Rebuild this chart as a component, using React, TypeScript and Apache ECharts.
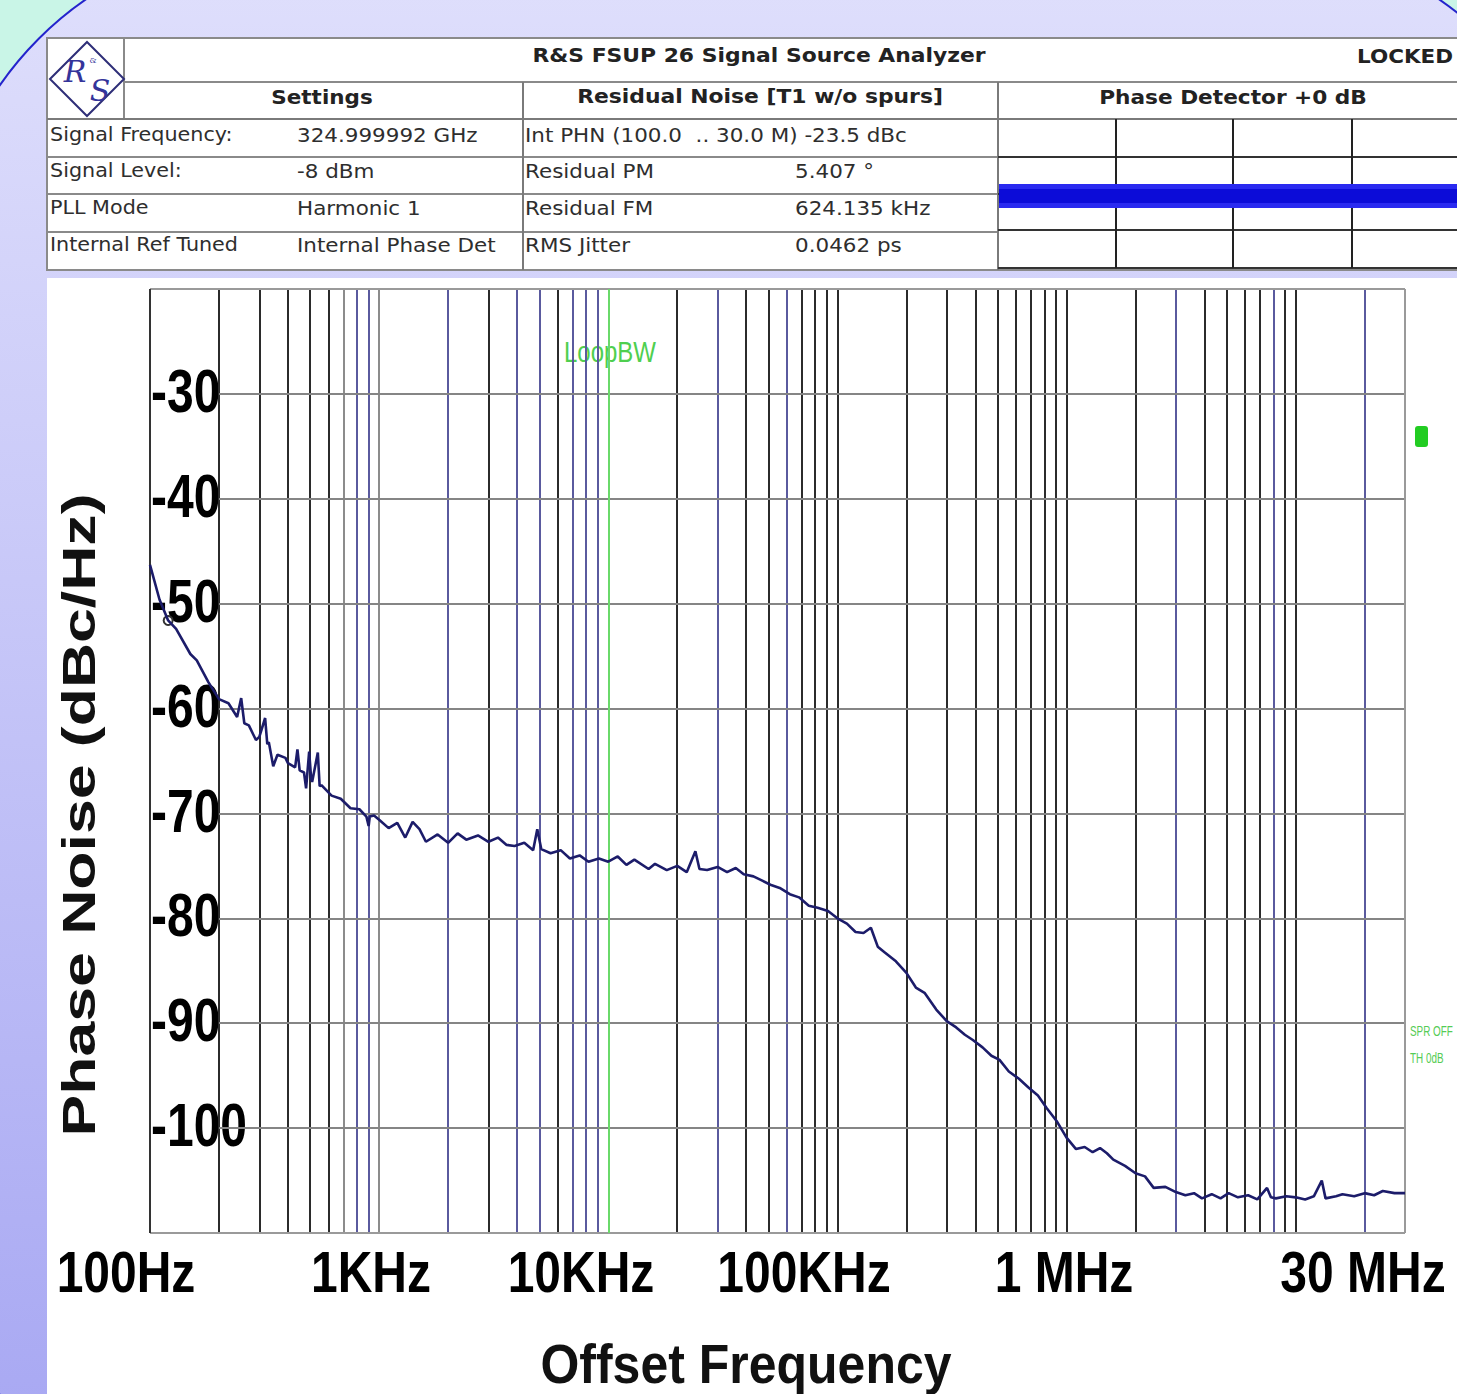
import React, { useEffect, useRef } from "react";
import * as echarts from "echarts";

// ---------------- data ----------------
const freqHz = [
  100, 110, 120, 130, 150, 160, 180, 200, 220, 240, 250, 258, 270, 290, 300, 318, 325, 330, 345, 360,
  390, 400, 430, 440, 450, 470, 480, 495, 505, 510, 540, 550, 560, 620, 680, 750, 820, 880, 900, 910, 950,
  1000, 1100, 1200, 1300, 1400, 1500, 1600, 1800, 2000, 2200, 2400, 2700, 3000, 3300, 3600, 3900, 4300,
  4700, 4900, 5100, 5600, 6200, 6800, 7500, 8200, 9100,
  10000, 11000, 12000, 13000, 15000, 16000, 18000, 20000, 22000, 24000, 25000, 27000, 30000, 33000, 36000,
  39000, 43000, 47000, 51000, 56000, 62000, 68000, 75000, 82000, 91000,
  100000, 110000, 120000, 130000, 140000, 150000, 160000, 180000, 200000, 220000, 240000, 270000, 300000,
  330000, 360000, 390000, 430000, 470000, 510000, 560000, 620000, 680000, 750000, 820000, 910000,
  1000000, 1100000, 1200000, 1300000, 1400000, 1500000, 1600000, 1800000, 2000000, 2200000, 2400000,
  2700000, 3000000, 3300000, 3600000, 3900000, 4300000, 4700000, 5100000, 5600000, 6200000, 6800000,
  7500000, 7800000, 8200000, 9100000,
  10000000, 11000000, 12000000, 13000000, 13500000, 15000000, 16000000, 18000000, 20000000, 22000000,
  24000000, 27000000, 30000000,
];
const phaseNoiseDbc = [
  -46.3, -49.6, -51.6, -52.4, -54.8, -55.4, -57.5, -59.1, -59.5, -60.8, -59.0, -61.4, -61.6, -63.0, -62.7,
  -60.9, -63.4, -63.2, -65.5, -64.4, -64.7, -65.2, -65.6, -63.9, -65.9, -66.1, -67.6, -64.1, -66.7, -67.0,
  -64.2, -67.4, -67.3, -68.3, -68.6, -69.5, -69.6, -70.3, -71.2, -70.3, -70.2,
  -70.6, -71.4, -70.9, -72.3, -70.8, -71.5, -72.7, -72.0, -72.8, -71.9, -72.5, -72.1, -72.7, -72.3, -73.0,
  -73.1, -72.8, -73.5, -71.5, -73.4, -73.8, -73.5, -74.3, -74.0, -74.6, -74.3,
  -74.6, -74.1, -74.9, -74.4, -75.3, -74.8, -75.4, -75.0, -75.6, -73.6, -75.3, -75.4, -75.1, -75.6, -75.2,
  -75.8, -76.0, -76.4, -76.8, -77.1, -77.7, -78.0, -78.8, -79.0, -79.3,
  -80.0, -80.5, -81.3, -81.4, -80.9, -82.7, -83.2, -84.1, -85.2, -86.6, -87.1, -88.7, -89.8, -90.4, -91.1,
  -91.6, -92.3, -93.1, -93.5, -94.6, -95.3, -96.1, -96.9, -98.1, -99.4,
  -100.9, -102.0, -101.8, -102.3, -101.9, -102.4, -103.0, -103.6, -104.3, -104.6, -105.7, -105.6, -106.1,
  -106.4, -106.2, -106.7, -106.3, -106.7, -106.2, -106.6, -106.4, -106.8, -105.7, -106.6, -106.7, -106.5,
  -106.6, -106.8, -106.5, -105.0, -106.7, -106.5, -106.3, -106.5, -106.2, -106.4, -106.0, -106.2, -106.2,
];

const markerHz = 120;
const markerDbc = -51.6;
const loopBandwidthHz = 10000;

const X_MIN = 100;
const X_MAX = 30000000;
const Y_MIN = -110;
const Y_MAX = -20;

const yTickValues = [-30, -40, -50, -60, -70, -80, -90, -100];
const xTickLabels = ["100Hz", "1KHz", "10KHz", "100KHz", "1 MHz", "30 MHz"];

const gridDarkHz = [
  200, 300, 400, 500, 600, 3000, 6000, 20000, 40000, 50000, 70000, 80000, 90000, 100000,
  200000, 300000, 400000, 500000, 600000, 700000, 800000, 900000, 1000000,
  2000000, 4000000, 5000000, 6000000, 7000000, 9000000, 10000000,
];
const gridPurpleHz = [800, 900, 2000, 4000, 5000, 7000, 8000, 9000, 30000, 60000, 3000000, 8000000, 20000000];
const gridGrayHz = [700, 1000];

const settingsNames = ["Signal Frequency:", "Signal Level:", "PLL Mode", "Internal Ref Tuned"];
const settingsValues = ["324.999992 GHz", "-8 dBm", "Harmonic 1", "Internal Phase Det"];
const residualNames = ["Int PHN (100.0  .. 30.0 M) -23.5 dBc", "Residual PM", "Residual FM", "RMS Jitter"];
const residualValues = ["", "5.407 °", "624.135 kHz", "0.0462 ps"];

// ---------------- layout constants ----------------
const W = 1457;
const H = 1394;
const BIG = '"Liberation Sans", Arial, sans-serif';
const TBL = '"DejaVu Sans", sans-serif';

function txt(x: number, y: number, text: string, font: string, fill: string, align = "left", extra: any = {}) {
  return {
    type: "text",
    x,
    y,
    silent: true,
    z: extra.z ?? 3,
    ...extra,
    style: {
      text,
      font,
      fill,
      align,
      textAlign: align,
      verticalAlign: "middle",
      textVerticalAlign: "middle",
      ...(extra.style || {}),
    },
  };
}
function ln(x1: number, y1: number, x2: number, y2: number, stroke: string, w = 2, z = 1) {
  return { type: "line", silent: true, z, shape: { x1, y1, x2, y2 }, style: { stroke, lineWidth: w } };
}

export default function App() {
  const ref = useRef<HTMLDivElement>(null);

  useEffect(() => {
    if (!ref.current) return;
    const chart = echarts.init(ref.current, null, { renderer: "svg" });

    const vSeg = (f: number, color: string, width = 2) => [
      { coord: [f, Y_MIN], lineStyle: { color, width, type: "solid", opacity: 1 } },
      { coord: [f, Y_MAX] },
    ];
    const hSeg = (v: number, from: number, color: string, width = 2) => [
      { coord: [from, v], lineStyle: { color, width, type: "solid", opacity: 1 } },
      { coord: [X_MAX, v] },
    ];

    const gridLines: any[] = [
      ...gridGrayHz.map((f) => vSeg(f, "#8c8c8c")),
      ...gridPurpleHz.map((f) => vSeg(f, "#5a5a9e")),
      ...gridDarkHz.map((f) => vSeg(f, "#2b2b2b")),
      ...yTickValues.map((v) => hSeg(v, 200, "#858585")),
      hSeg(Y_MAX, X_MIN, "#9a9a9a"),
      hSeg(Y_MIN, X_MIN, "#9a9a9a"),
      vSeg(X_MIN, "#333333"),
      vSeg(X_MAX, "#9a9a9a"),
      vSeg(loopBandwidthHz, "#6ad96a"),
    ];

    const option: any = {
      animation: false,
      backgroundColor: "#c9f5e7",
      grid: { left: 150, top: 289, right: 52, bottom: 161 },
      xAxis: {
        type: "log",
        logBase: 10,
        min: X_MIN,
        max: X_MAX,
        axisLine: { show: false },
        axisTick: { show: false },
        axisLabel: { show: false },
        splitLine: { show: false },
      },
      yAxis: {
        type: "value",
        min: Y_MIN,
        max: Y_MAX,
        interval: 10,
        axisLine: { show: false },
        axisTick: { show: false },
        axisLabel: { show: false },
        splitLine: { show: false },
      },
      series: [
        {
          type: "line",
          z: 2,
          silent: true,
          data: [[X_MIN, Y_MIN]],
          showSymbol: false,
          lineStyle: { opacity: 0 },
          markLine: {
            silent: true,
            symbol: ["none", "none"],
            label: { show: false },
            emphasis: { disabled: true },
            animation: false,
            data: gridLines,
          },
        },
        {
          type: "line",
          z: 5,
          silent: true,
          data: freqHz.map((f, i) => [f, phaseNoiseDbc[i]]),
          showSymbol: false,
          symbol: "none",
          lineStyle: { color: "#1c1c6a", width: 2.6 },
          markPoint: {
            silent: true,
            symbol: "emptyCircle",
            symbolSize: 9,
            itemStyle: { color: "#333", borderColor: "#333", borderWidth: 1.5 },
            label: { show: false },
            data: [{ coord: [markerHz, markerDbc] }],
          },
        },
      ],
    };
    chart.setOption(option);

    const x0 = chart.convertToPixel({ xAxisIndex: 0 }, X_MIN) as number;
    const yLabelEls = yTickValues.map((v) =>
      txt(x0 + 1, (chart.convertToPixel({ yAxisIndex: 0 }, v) as number) - 3, String(v), `bold 48px ${BIG}`, "#000", "left", {
        scaleY: 1.27,
        z: 3,
      })
    );
    const xLabelCenters = [126, 371, 581, 804, 1064, 1363];
    const xLabelEls = xTickLabels.map((t, i) =>
      txt(xLabelCenters[i], 1272, t, `bold 48px ${BIG}`, "#000", "center", { scaleY: 1.2 })
    );

    const rowY = [135, 171, 208, 245];
    const REG = `19px ${TBL}`;
    const BLD = `bold 19px ${TBL}`;
    const tableText: any[] = [];
    settingsNames.forEach((t, i) => tableText.push(txt(50, rowY[i], t, REG, "#2e2e2e", "left", { z: 6, scaleX: 1.09 })));
    settingsValues.forEach((t, i) => tableText.push(txt(297, rowY[i], t, REG, "#2e2e2e", "left", { z: 6, scaleX: 1.13 })));
    residualNames.forEach((t, i) => tableText.push(txt(525, rowY[i], t, REG, "#2e2e2e", "left", { z: 6, scaleX: 1.13 })));
    residualValues.forEach((t, i) => tableText.push(txt(795, rowY[i], t, REG, "#2e2e2e", "left", { z: 6, scaleX: 1.13 })));

    const elements: any[] = [
      // slide background
      {
        type: "rect",
        silent: true,
        z: 0,
        shape: { x: -60, y: -60, width: 1645, height: 1600, r: 337 },
        style: {
          fill: new echarts.graphic.LinearGradient(0, 0, 0, 1, [
            { offset: 0, color: "#e0e0fc" },
            { offset: 1, color: "#a4a4f2" },
          ]),
          stroke: "#2424cc",
          lineWidth: 2,
        },
      },
      // white panels
      { type: "rect", silent: true, z: 0, shape: { x: 47, y: 278, width: 1420, height: 1130 }, style: { fill: "#ffffff" } },
      { type: "rect", silent: true, z: 0, shape: { x: 47, y: 38, width: 1420, height: 232 }, style: { fill: "#ffffff", stroke: "#8a8a8a", lineWidth: 2 } },
      // table lines
      ln(124, 38, 124, 119, "#8a8a8a"),
      ln(124, 82, W, 82, "#8a8a8a"),
      ln(47, 119, W, 119, "#7a7a7a"),
      ln(47, 157, 998, 157, "#8a8a8a"),
      ln(47, 194, 998, 194, "#8a8a8a"),
      ln(47, 232, 998, 232, "#8a8a8a"),
      ln(523, 82, 523, 270, "#7a7a7a"),
      ln(998, 82, 998, 270, "#7a7a7a"),
      ln(998, 157, W, 157, "#333"),
      ln(998, 194, W, 194, "#333"),
      ln(998, 230, W, 230, "#333"),
      ln(998, 268, W, 268, "#333"),
      ln(1116, 119, 1116, 268, "#222"),
      ln(1233, 119, 1233, 268, "#222"),
      ln(1352, 119, 1352, 268, "#222"),
      // phase detector noise band
      { type: "rect", silent: true, z: 2, shape: { x: 999, y: 184, width: 460, height: 24 }, style: { fill: "#2a2af0" } },
      { type: "rect", silent: true, z: 2, shape: { x: 999, y: 189, width: 460, height: 14 }, style: { fill: "#0c0cd8" } },
      // logo
      {
        type: "polygon",
        silent: true,
        z: 3,
        shape: { points: [[50, 79], [87, 42], [124, 79], [87, 116]] },
        style: { fill: "none", stroke: "#2e2e78", lineWidth: 2 },
      },
      txt(75, 71, "R", `italic 30px "DejaVu Serif", serif`, "#34349a", "center", { z: 4 }),
      txt(93, 60, "&", `8px "DejaVu Serif", serif`, "#34349a", "center", { z: 4 }),
      txt(100, 90, "S", `italic 30px "DejaVu Serif", serif`, "#34349a", "center", { z: 4 }),
      // table headings
      txt(759, 56, "R&S FSUP 26 Signal Source Analyzer", BLD, "#222", "center", { z: 6, scaleX: 1.15 }),
      txt(1357, 56, "LOCKED", BLD, "#222", "left", { z: 6, scaleX: 1.13 }),
      txt(322, 97, "Settings", BLD, "#222", "center", { z: 6, scaleX: 1.13 }),
      txt(760, 97, "Residual Noise [T1 w/o spurs]", BLD, "#222", "center", { z: 6, scaleX: 1.15 }),
      txt(1233, 97, "Phase Detector +0 dB", BLD, "#222", "center", { z: 6, scaleX: 1.14 }),
      ...tableText,
      // axis titles
      txt(79, 815, "Phase Noise (dBc/Hz)", `bold 46px ${BIG}`, "#111", "center", { rotation: Math.PI / 2, scaleX: 1.36 }),
      txt(746, 1363, "Offset Frequency", `bold 50px ${BIG}`, "#111", "center", { scaleY: 1.12 }),
      ...xLabelEls,
      ...yLabelEls,
      // Loop BW annotation
      txt(610, 352, "LoopBW", `24px ${BIG}`, "#4fcf4f", "center", {
        z: 4,
        scaleY: 1.2,
        style: { backgroundColor: "#ffffff", padding: [2, 2] },
      }),
      // right-side annotations
      { type: "rect", silent: true, z: 4, shape: { x: 1415, y: 426, width: 13, height: 21, r: 3 }, style: { fill: "#22cc22" } },
      txt(1410, 1031, "SPR OFF", `11px ${BIG}`, "#55cc55", "left", { z: 4, scaleY: 1.3, scaleX: 0.9 }),
      txt(1410, 1058, "TH 0dB", `11px ${BIG}`, "#55cc55", "left", { z: 4, scaleY: 1.3, scaleX: 0.9 }),
    ];

    chart.setOption({ graphic: { elements } });

    return () => {
      chart.dispose();
    };
  }, []);

  return <div ref={ref} style={{ position: "absolute", left: 0, top: 0, width: W, height: H }} />;
}
